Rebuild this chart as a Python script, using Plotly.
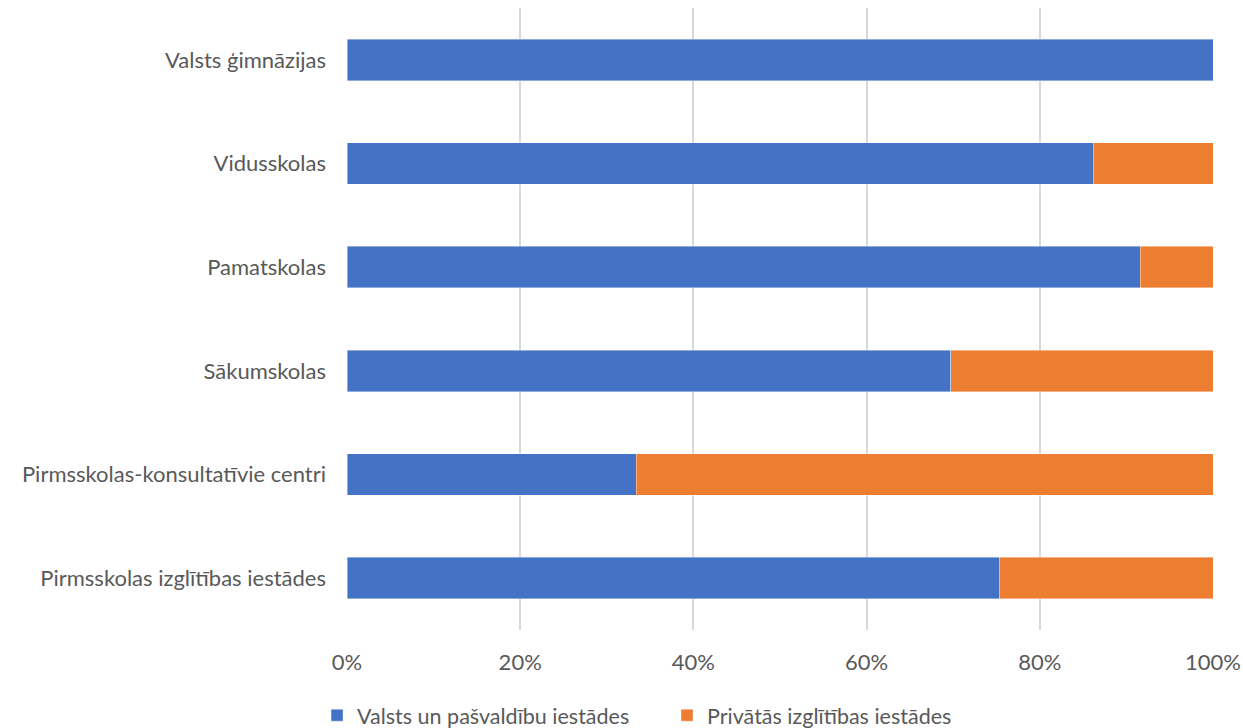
import plotly.graph_objects as go

categories = [
    "Pirmsskolas izglītības iestādes",
    "Pirmsskolas-konsultatīvie centri",
    "Sākumskolas",
    "Pamatskolas",
    "Vidusskolas",
    "Valsts ģimnāzijas",
]
valsts = [75.3, 33.4, 69.7, 91.6, 86.2, 100.0]
privatas = [24.7, 66.6, 30.3, 8.4, 13.8, 0.0]
x_ticks = [0, 20, 40, 60, 80, 100]
x_tick_labels = ["0%", "20%", "40%", "60%", "80%", "100%"]

font_family = "Lato, 'Open Sans', sans-serif"
txt = "#595959"

fig = go.Figure()
fig.add_trace(go.Bar(
    y=categories, x=valsts, orientation="h", name="Valsts un pašvaldību iestādes",
    marker=dict(color="#4472C4", line=dict(color="rgba(255,255,255,0.5)", width=0.8)),
))
fig.add_trace(go.Bar(
    y=categories, x=privatas, orientation="h", name="Privātās izglītības iestādes",
    marker=dict(color="#ED7D31", line=dict(color="rgba(255,255,255,0.5)", width=0.8)),
))

fig.update_layout(
    barmode="stack",
    bargap=0.6,
    width=1243, height=728,
    margin=dict(l=347, r=30, t=8, b=98, autoexpand=False),
    paper_bgcolor="white", plot_bgcolor="white",
    font=dict(family=font_family, size=22, color=txt),
    legend=dict(orientation="h", x=-0.0346, xanchor="left", y=-0.137, yanchor="middle",
                font=dict(size=21.5, color=txt), traceorder="normal",
                entrywidth=305, entrywidthmode="pixels"),
    xaxis=dict(range=[0, 100], tickvals=x_ticks, ticktext=x_tick_labels,
               showgrid=True, gridcolor="#D9D9D9", gridwidth=1.5, zeroline=False,
               showline=False, ticks="", ticklabelstandoff=17, fixedrange=True),
    yaxis=dict(showgrid=False, showline=False, ticks="", ticklabelstandoff=20,
               categoryorder="array", categoryarray=categories, fixedrange=True),
)

fig.write_html(
    "out.html",
    config={"displayModeBar": False},
    post_script="document.body.style.margin='0';document.body.style.overflow='hidden';",
)
